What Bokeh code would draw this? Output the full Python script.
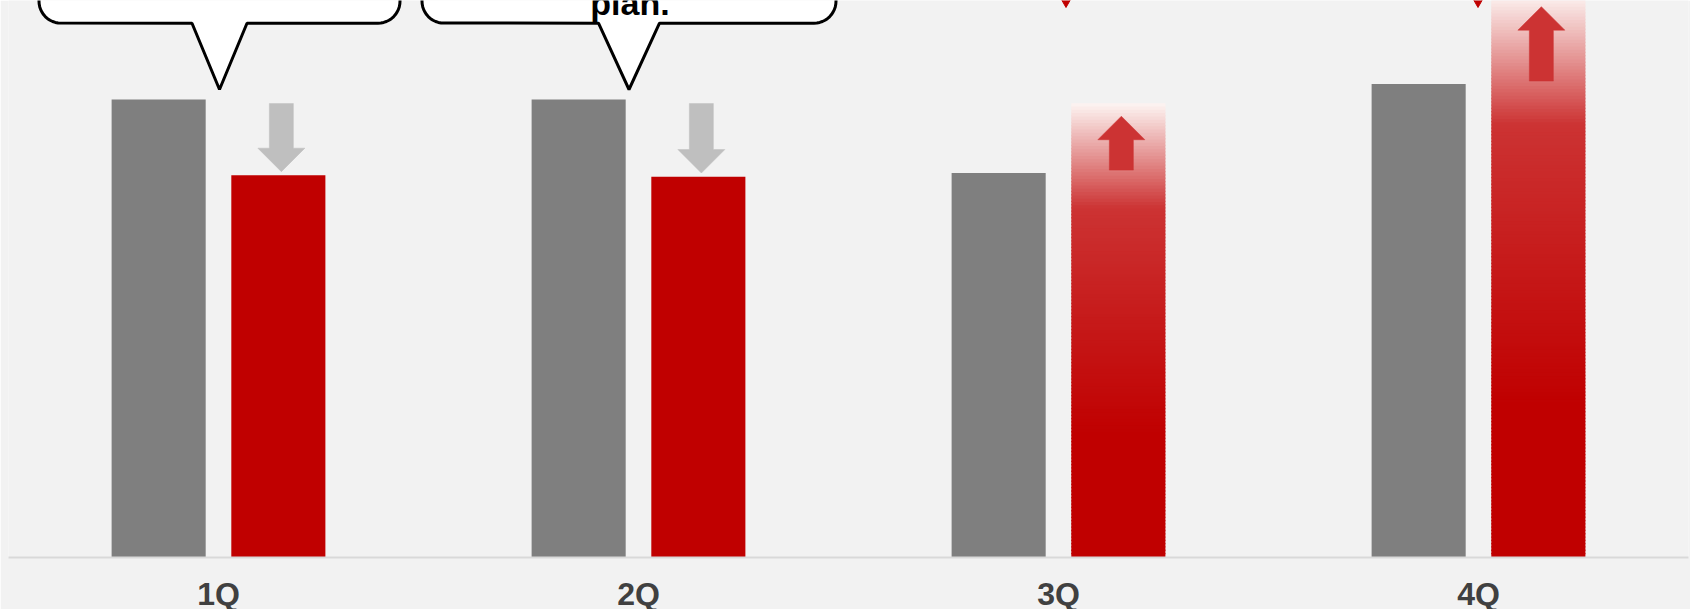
import math

from bokeh.core.properties import value
from bokeh.embed import file_html
from bokeh.models import ColumnDataSource, FactorRange, Range1d
from bokeh.plotting import figure
from bokeh.resources import INLINE

# ---- data -------------------------------------------------------------
quarters = ["1Q", "2Q", "3Q", "4Q"]
plan = [100.3, 100.3, 84.2, 103.7]
actual = [83.7, 83.4, 99.5, 123.5]
note_line = "plan."

# ---- style ------------------------------------------------------------
BG = "#f2f2f2"
GREY = "#7f7f7f"
RED = "#c00000"
ARROW_GREY = "#bfbfbf"
ARROW_RED = "#cc3333"
LABEL = "#404040"
FONT = "Liberation Sans"

GRAD_TOP = (253, 245, 243)
GRAD_MID = (204, 51, 51)
GRAD_BASE = (192, 0, 0)

FRAME_W, FRAME_H = 1680, 557
Y_MAX = 122.0
PX_X = FRAME_W / len(quarters)   # pixels per category
PX_Y = FRAME_H / Y_MAX           # pixels per value unit


def dx(px):
    return px / PX_X


def dy(px):
    return px / PX_Y


BAR_W = 0.224
OFFSET = 0.1425
centers = [i + 0.5 for i in range(len(quarters))]

p = figure(
    x_range=FactorRange(*quarters, range_padding=0),
    y_range=Range1d(0, Y_MAX),
    frame_width=FRAME_W,
    frame_height=FRAME_H,
    min_border_left=8,
    min_border_right=2,
    min_border_top=0,
    min_border_bottom=52,
    y_axis_location=None,
    output_backend="svg",
    toolbar_location=None,
)
p.background_fill_color = BG
p.border_fill_color = BG
p.outline_line_color = None
p.grid.visible = False

ax = p.xaxis[0]
ax.axis_line_color = "#d9d9d9"
ax.axis_line_width = 2
ax.major_tick_line_color = None
ax.minor_tick_line_color = None
ax.major_label_text_font = FONT
ax.major_label_text_font_style = "bold"
ax.major_label_text_font_size = "32px"
ax.major_label_text_color = LABEL
ax.major_label_standoff = 12

# ---- plan bars --------------------------------------------------------
plan_src = ColumnDataSource(dict(x=[c - OFFSET for c in centers], top=plan))
p.vbar(x="x", top="top", width=BAR_W, source=plan_src,
       fill_color=GREY, line_color=None)

# ---- actual bars: solid when below plan, gradient when above ----------
def lerp(c1, c2, t):
    return "#%02x%02x%02x" % tuple(round(a + (b - a) * t) for a, b in zip(c1, c2))


def grad_color(t):
    # t = 0 at the bar top, 1 at the baseline
    if t < 0.232:
        return lerp(GRAD_TOP, GRAD_MID, t / 0.232)
    if t < 0.73:
        return lerp(GRAD_MID, GRAD_BASE, (t - 0.232) / 0.498)
    return lerp(GRAD_BASE, GRAD_BASE, 0)


solid = dict(x=[], top=[])
slices = dict(left=[], right=[], bottom=[], top=[], color=[])
for c, a, pl in zip(centers, actual, plan):
    xc = c + OFFSET
    if a <= pl:
        solid["x"].append(xc)
        solid["top"].append(a)
        continue
    n = max(1, math.ceil(a / dy(3.3)))
    step = a / n
    for k in range(n):
        y0 = k * step
        y1 = (k + 1) * step
        t = 1 - (y0 + y1) / 2 / a
        slices["left"].append(xc - BAR_W / 2)
        slices["right"].append(xc + BAR_W / 2)
        slices["bottom"].append(y0)
        slices["top"].append(min(a, y1 + step * 0.4))
        slices["color"].append(grad_color(t))

p.vbar(x="x", top="top", width=BAR_W, source=ColumnDataSource(solid),
       fill_color=RED, line_color=None)
p.quad(left="left", right="right", bottom="bottom", top="top",
       fill_color="color", line_color=None, source=ColumnDataSource(slices))

# ---- direction arrows -------------------------------------------------
def arrow(xc, y_tail, y_tip):
    s = 1 if y_tip > y_tail else -1
    head = dy(23.5) * s
    hw, sw = dx(23.5), dx(12)
    ys = y_tip - head
    xs = [xc - sw, xc - sw, xc - hw, xc, xc + hw, xc + sw, xc + sw]
    yv = [y_tail, ys, ys, y_tip, ys, ys, y_tail]
    return xs, yv


arr = dict(xs=[], ys=[], color=[])
for c, a, pl in zip(centers, actual, plan):
    xc = c + OFFSET + dx(3)
    if a < pl:
        xs, ys = arrow(xc, pl - dy(4), a + dy(3.7))
        col = ARROW_GREY
    else:
        xs, ys = arrow(xc, pl + dy(3), a - dy(13))
        col = ARROW_RED
    arr["xs"].append(xs)
    arr["ys"].append(ys)
    arr["color"].append(col)
p.patches("xs", "ys", fill_color="color", line_color="color", line_width=0.5,
          source=ColumnDataSource(arr))

# ---- callouts ----------------------------------------------------------
def callout(tip_x, tip_y, half_w, half_ptr, ptr_h=66.3, r=22, extra=300):
    pts = [(-half_w, ptr_h + extra), (-half_w, ptr_h + r)]
    for k in range(1, 12):
        ang = math.pi + k / 12 * math.pi / 2
        pts.append((-half_w + r + r * math.cos(ang), ptr_h + r + r * math.sin(ang)))
    pts += [(-half_ptr, ptr_h), (0, 0), (half_ptr, ptr_h), (half_w - r, ptr_h)]
    for k in range(1, 12):
        ang = 1.5 * math.pi + k / 12 * math.pi / 2
        pts.append((half_w - r + r * math.cos(ang), ptr_h + r + r * math.sin(ang)))
    pts += [(half_w, ptr_h + r), (half_w, ptr_h + extra)]
    return ([tip_x + dx(u) for u, _ in pts], [tip_y + dy(v) for _, v in pts])


tip_y_black = Y_MAX - dy(89)
c1 = callout(centers[0] + dx(1), tip_y_black, 180.5, 27.5)
c2 = callout(centers[1] - dx(9.5), tip_y_black, 207, 30.5)
p.patches([c1[0], c2[0]], [c1[1], c2[1]], fill_color="white",
          line_color="black", line_width=3)

tip_y_red = Y_MAX - dy(7)
r1 = callout(centers[2] + dx(7.5), tip_y_red, 200, 38)
r2 = callout(centers[3] - dx(0.5), tip_y_red, 200, 38)
p.patches([r1[0], r2[0]], [r1[1], r2[1]], fill_color=RED,
          line_color=RED, line_width=1)

p.text(x=[centers[1] - dx(8.5)], y=[tip_y_black + dy(87)], text=[note_line],
       text_font=value(FONT), text_font_style="bold", text_font_size="34px",
       text_color="black", text_align="center", text_baseline="alphabetic")

open("out.html", "w").write(file_html(p, INLINE))
